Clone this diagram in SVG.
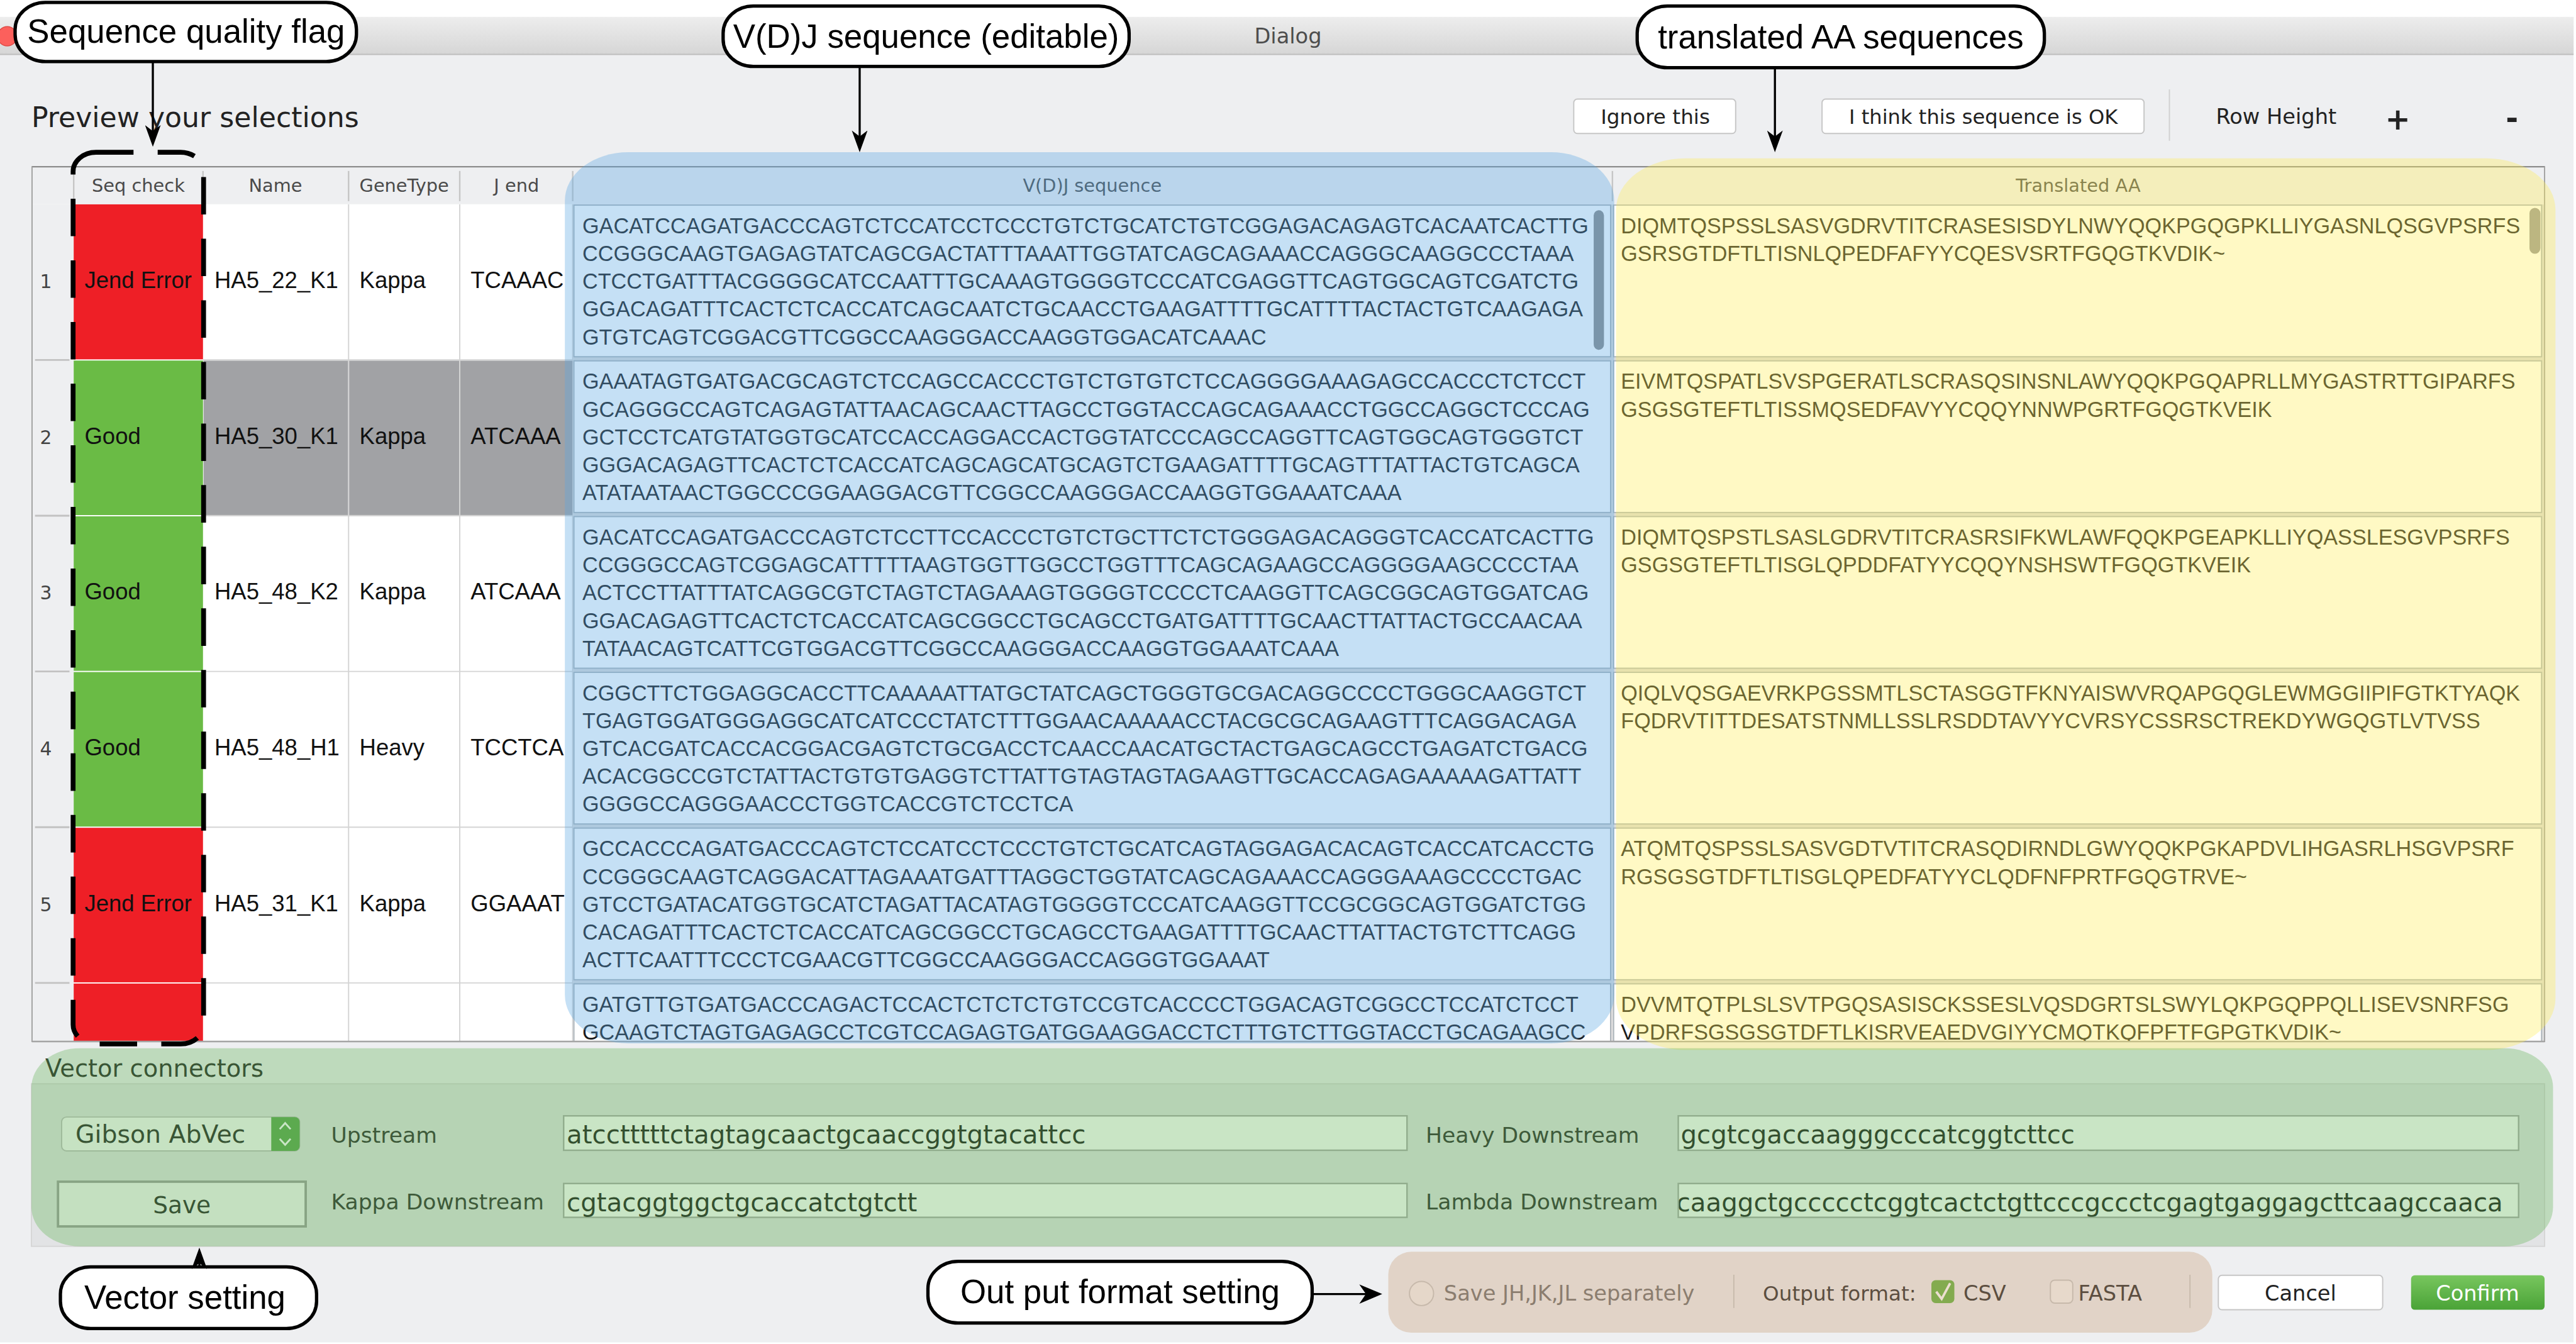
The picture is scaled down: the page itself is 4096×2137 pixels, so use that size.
<svg xmlns="http://www.w3.org/2000/svg" width="4096" height="2137" viewBox="0 0 4096 2137">
<style>
.ui{font-family:"DejaVu Sans",sans-serif;fill:#222}
.hv{font-family:"Liberation Sans",Arial,sans-serif;fill:#111}
.seq{font-family:"Liberation Sans",Arial,sans-serif;font-size:35.6px;fill:#1c1c1c}
.hdr{font-family:"DejaVu Sans",sans-serif;font-size:30px;fill:#4a4a4a;text-anchor:middle}
.cell{font-family:"Liberation Sans",Arial,sans-serif;font-size:38px;fill:#111}
.num{font-family:"DejaVu Sans",sans-serif;font-size:31px;fill:#444;text-anchor:middle}
.lbl{font-family:"DejaVu Sans",sans-serif;font-size:36px;fill:#2a2a2a}
.fld{font-family:"DejaVu Sans",sans-serif;font-size:42px;fill:#1a1a1a}
.field{fill:#ffffff;stroke:#a9a9a9;stroke-width:2.5}
.btn{fill:#ffffff;stroke:#c6c6c6;stroke-width:2}
.vcell{fill:#ffffff;stroke:#adb5bb;stroke-width:2}
.grid{stroke:#d4d4d4;stroke-width:2}
.hsep{stroke:#c6c6c6;stroke-width:2.5}
.ov{fill-opacity:0.35}
.callout{fill:#ffffff;stroke:#000000;stroke-width:5.5}
.ctext{font-family:"Liberation Sans",Arial,sans-serif;font-size:55px;fill:#000;text-anchor:middle}
.conn{stroke:#000;stroke-width:3.5;fill:none}
</style>
<defs>
<linearGradient id="tbar" x1="0" y1="0" x2="0" y2="1"><stop offset="0" stop-color="#ededed"/><stop offset="1" stop-color="#d6d6d6"/></linearGradient>
<linearGradient id="gbtn" x1="0" y1="0" x2="0" y2="1"><stop offset="0" stop-color="#78c65e"/><stop offset="1" stop-color="#4aa337"/></linearGradient>
<marker id="ah" viewBox="0 0 36 26" refX="12" refY="13" markerWidth="36" markerHeight="26" markerUnits="userSpaceOnUse" orient="auto"><path d="M0,0 L36,13 L0,26 L10,13 Z" fill="#000"/></marker>
<marker id="ah2" viewBox="0 0 38 32" refX="13" refY="16" markerWidth="38" markerHeight="32" markerUnits="userSpaceOnUse" orient="auto"><path d="M0,0 L38,16 L0,32 L11,16 Z" fill="#000"/></marker>
<clipPath id="body"><rect x="53" y="338" width="4159" height="1385"/></clipPath>
<clipPath id="lamclip"><rect x="2779" y="1960" width="1389" height="54"/></clipPath>
</defs>
<rect x="0" y="0" width="4096" height="2137" fill="#ffffff"/>
<g transform="scale(0.9606)">
<g id="window">
<rect x="0" y="28" width="4260" height="2194" fill="#eeeff1"/>
<rect x="0" y="28" width="4260" height="62" fill="url(#tbar)"/>
<line x1="0" y1="90" x2="4260" y2="90" stroke="#bdbdbd" stroke-width="2"/>
<circle cx="12" cy="60" r="16" fill="#fc605c" stroke="#de4a45" stroke-width="1.5"/>
<text class="ui" x="2132" y="72" font-size="35" text-anchor="middle" style="fill:#4d4d4d">Dialog</text>
<text class="ui" x="52" y="210" font-size="46">Preview your selections</text>
</g>
<g id="toolbar">
<rect class="btn" x="2605" y="164" width="268" height="57" rx="6"/>
<text class="ui" x="2740" y="205" font-size="34" text-anchor="middle">Ignore this</text>
<rect class="btn" x="3016" y="164" width="533" height="57" rx="6"/>
<text class="ui" x="3283" y="205" font-size="33.5" text-anchor="middle">I think this sequence is OK</text>
<line x1="3591" y1="148" x2="3591" y2="233" stroke="#d0d0d0" stroke-width="2"/>
<text class="ui" x="3668" y="205" font-size="35">Row Height</text>
<text class="ui" x="3969" y="214" font-size="50" font-weight="bold" text-anchor="middle">+</text>
<text class="ui" x="4158" y="212" font-size="50" font-weight="bold" text-anchor="middle">-</text>
</g>
<g id="table">
<rect x="53" y="276" width="4159" height="1448" fill="#ffffff" stroke="#a5a5a5" stroke-width="2"/>
<rect x="54" y="277" width="4157" height="61" fill="#eeeff1"/>
<line x1="53" y1="276" x2="4212" y2="276" stroke="#8c8c8c" stroke-width="2.5"/>
<line class="hsep" x1="122" y1="283" x2="122" y2="333"/>
<line class="hsep" x1="336" y1="283" x2="336" y2="333"/>
<line class="hsep" x1="577" y1="283" x2="577" y2="333"/>
<line class="hsep" x1="761" y1="283" x2="761" y2="333"/>
<line class="hsep" x1="948" y1="283" x2="948" y2="333"/>
<line class="hsep" x1="2669" y1="283" x2="2669" y2="333"/>
<text class="hdr" x="229" y="318">Seq check</text>
<text class="hdr" x="456" y="318">Name</text>
<text class="hdr" x="669" y="318">GeneType</text>
<text class="hdr" x="855" y="318">J end</text>
<text class="hdr" x="1808" y="318">V(D)J sequence</text>
<text class="hdr" x="3440" y="318">Translated AA</text>
<g clip-path="url(#body)">
<rect x="54" y="338" width="68" height="1386" fill="#eeeff1"/>
<g stroke="#c2c2c2" stroke-width="3">
<line x1="58" y1="595.8" x2="115" y2="595.8"/><line x1="58" y1="853.6" x2="115" y2="853.6"/><line x1="58" y1="1111.4" x2="115" y2="1111.4"/><line x1="58" y1="1369.2" x2="115" y2="1369.2"/><line x1="58" y1="1627" x2="115" y2="1627"/>
</g>
<g class="grid">
<line x1="577" y1="338" x2="577" y2="1724"/><line x1="761" y1="338" x2="761" y2="1724"/><line x1="948" y1="338" x2="948" y2="1724"/>
<line x1="336" y1="595.8" x2="948" y2="595.8"/><line x1="336" y1="853.6" x2="948" y2="853.6"/><line x1="336" y1="1111.4" x2="948" y2="1111.4"/><line x1="336" y1="1369.2" x2="948" y2="1369.2"/><line x1="336" y1="1627" x2="948" y2="1627"/>
</g>
<g id="selected-row" fill="#a1a2a5">
<rect x="337" y="597" width="239" height="255.5"/><rect x="578" y="597" width="182" height="255.5"/><rect x="762" y="597" width="185.5" height="255.5"/>
</g>
<g id="seq-check-col">
<rect x="122" y="338" width="214" height="256.8" fill="#ee1f26"/>
<rect x="122" y="596.8" width="214" height="255.8" fill="#6abb45"/>
<rect x="122" y="854.6" width="214" height="255.8" fill="#6abb45"/>
<rect x="122" y="1112.4" width="214" height="255.8" fill="#6abb45"/>
<rect x="122" y="1370.2" width="214" height="255.8" fill="#ee1f26"/>
<rect x="122" y="1628" width="214" height="100" fill="#ee1f26"/>
</g>
<g id="row-labels">
<text class="num" x="76" y="477">1</text><text class="num" x="76" y="734.8">2</text><text class="num" x="76" y="992.6">3</text><text class="num" x="76" y="1250.4">4</text><text class="num" x="76" y="1508.2">5</text>
<text class="cell" x="140" y="477">Jend Error</text><text class="cell" x="355" y="477">HA5_22_K1</text><text class="cell" x="595" y="477">Kappa</text><text class="cell" x="779" y="477">TCAAAC</text>
<text class="cell" x="140" y="734.8">Good</text><text class="cell" x="355" y="734.8">HA5_30_K1</text><text class="cell" x="595" y="734.8">Kappa</text><text class="cell" x="779" y="734.8">ATCAAA</text>
<text class="cell" x="140" y="992.6">Good</text><text class="cell" x="355" y="992.6">HA5_48_K2</text><text class="cell" x="595" y="992.6">Kappa</text><text class="cell" x="779" y="992.6">ATCAAA</text>
<text class="cell" x="140" y="1250.4">Good</text><text class="cell" x="355" y="1250.4">HA5_48_H1</text><text class="cell" x="595" y="1250.4">Heavy</text><text class="cell" x="779" y="1250.4">TCCTCA</text>
<text class="cell" x="140" y="1508.2">Jend Error</text><text class="cell" x="355" y="1508.2">HA5_31_K1</text><text class="cell" x="595" y="1508.2">Kappa</text><text class="cell" x="779" y="1508.2">GGAAAT</text>
</g>
<g id="vdj-col">
<rect x="949" y="338" width="1720" height="1386" fill="#dcdcdc"/>
<rect class="vcell" x="950" y="339.5" width="1716" height="251"/>
<rect class="vcell" x="950" y="597.3" width="1716" height="251"/>
<rect class="vcell" x="950" y="855.1" width="1716" height="251"/>
<rect class="vcell" x="950" y="1112.9" width="1716" height="251"/>
<rect class="vcell" x="950" y="1370.7" width="1716" height="251"/>
<rect class="vcell" x="950" y="1628.5" width="1716" height="150"/>
<rect x="2638" y="348" width="17" height="231" rx="8.5" fill="#8d8d8d"/>
<text class="seq"><tspan x="964" y="386">GACATCCAGATGACCCAGTCTCCATCCTCCCTGTCTGCATCTGTCGGAGACAGAGTCACAATCACTTG</tspan><tspan x="964" y="432">CCGGGCAAGTGAGAGTATCAGCGACTATTTAAATTGGTATCAGCAGAAACCAGGGCAAGGCCCTAAA</tspan><tspan x="964" y="478">CTCCTGATTTACGGGGCATCCAATTTGCAAAGTGGGGTCCCATCGAGGTTCAGTGGCAGTCGATCTG</tspan><tspan x="964" y="524">GGACAGATTTCACTCTCACCATCAGCAATCTGCAACCTGAAGATTTTGCATTTTACTACTGTCAAGAGA</tspan><tspan x="964" y="570">GTGTCAGTCGGACGTTCGGCCAAGGGACCAAGGTGGACATCAAAC</tspan></text>
<text class="seq"><tspan x="964" y="643.8">GAAATAGTGATGACGCAGTCTCCAGCCACCCTGTCTGTGTCTCCAGGGGAAAGAGCCACCCTCTCCT</tspan><tspan x="964" y="689.8">GCAGGGCCAGTCAGAGTATTAACAGCAACTTAGCCTGGTACCAGCAGAAACCTGGCCAGGCTCCCAG</tspan><tspan x="964" y="735.8">GCTCCTCATGTATGGTGCATCCACCAGGACCACTGGTATCCCAGCCAGGTTCAGTGGCAGTGGGTCT</tspan><tspan x="964" y="781.8">GGGACAGAGTTCACTCTCACCATCAGCAGCATGCAGTCTGAAGATTTTGCAGTTTATTACTGTCAGCA</tspan><tspan x="964" y="827.8">ATATAATAACTGGCCCGGAAGGACGTTCGGCCAAGGGACCAAGGTGGAAATCAAA</tspan></text>
<text class="seq"><tspan x="964" y="901.6">GACATCCAGATGACCCAGTCTCCTTCCACCCTGTCTGCTTCTCTGGGAGACAGGGTCACCATCACTTG</tspan><tspan x="964" y="947.6">CCGGGCCAGTCGGAGCATTTTTAAGTGGTTGGCCTGGTTTCAGCAGAAGCCAGGGGAAGCCCCTAA</tspan><tspan x="964" y="993.6">ACTCCTTATTTATCAGGCGTCTAGTCTAGAAAGTGGGGTCCCCTCAAGGTTCAGCGGCAGTGGATCAG</tspan><tspan x="964" y="1039.6">GGACAGAGTTCACTCTCACCATCAGCGGCCTGCAGCCTGATGATTTTGCAACTTATTACTGCCAACAA</tspan><tspan x="964" y="1085.6">TATAACAGTCATTCGTGGACGTTCGGCCAAGGGACCAAGGTGGAAATCAAA</tspan></text>
<text class="seq"><tspan x="964" y="1159.4">CGGCTTCTGGAGGCACCTTCAAAAATTATGCTATCAGCTGGGTGCGACAGGCCCCTGGGCAAGGTCT</tspan><tspan x="964" y="1205.4">TGAGTGGATGGGAGGCATCATCCCTATCTTTGGAACAAAAACCTACGCGCAGAAGTTTCAGGACAGA</tspan><tspan x="964" y="1251.4">GTCACGATCACCACGGACGAGTCTGCGACCTCAACCAACATGCTACTGAGCAGCCTGAGATCTGACG</tspan><tspan x="964" y="1297.4">ACACGGCCGTCTATTACTGTGTGAGGTCTTATTGTAGTAGTAGAAGTTGCACCAGAGAAAAAGATTATT</tspan><tspan x="964" y="1343.4">GGGGCCAGGGAACCCTGGTCACCGTCTCCTCA</tspan></text>
<text class="seq"><tspan x="964" y="1417.2">GCCACCCAGATGACCCAGTCTCCATCCTCCCTGTCTGCATCAGTAGGAGACACAGTCACCATCACCTG</tspan><tspan x="964" y="1463.2">CCGGGCAAGTCAGGACATTAGAAATGATTTAGGCTGGTATCAGCAGAAACCAGGGAAAGCCCCTGAC</tspan><tspan x="964" y="1509.2">GTCCTGATACATGGTGCATCTAGATTACATAGTGGGGTCCCATCAAGGTTCCGCGGCAGTGGATCTGG</tspan><tspan x="964" y="1555.2">CACAGATTTCACTCTCACCATCAGCGGCCTGCAGCCTGAAGATTTTGCAACTTATTACTGTCTTCAGG</tspan><tspan x="964" y="1601.2">ACTTCAATTTCCCTCGAACGTTCGGCCAAGGGACCAGGGTGGAAAT</tspan></text>
<text class="seq"><tspan x="964" y="1675">GATGTTGTGATGACCCAGACTCCACTCTCTCTGTCCGTCACCCCTGGACAGTCGGCCTCCATCTCCT</tspan><tspan x="964" y="1721">GCAAGTCTAGTGAGAGCCTCGTCCAGAGTGATGGAAGGACCTCTTTGTCTTGGTACCTGCAGAAGCC</tspan></text>
</g>
<g id="aa-col">
<rect x="2669" y="338" width="1543" height="1386" fill="#dcdcdc"/>
<rect class="vcell" x="2671" y="339.5" width="1536" height="251"/>
<rect class="vcell" x="2671" y="597.3" width="1536" height="251"/>
<rect class="vcell" x="2671" y="855.1" width="1536" height="251"/>
<rect class="vcell" x="2671" y="1112.9" width="1536" height="251"/>
<rect class="vcell" x="2671" y="1370.7" width="1536" height="251"/>
<rect class="vcell" x="2671" y="1628.5" width="1536" height="150"/>
<rect x="4187" y="344" width="18" height="76" rx="9" fill="#999999"/>
<text class="seq"><tspan x="2683" y="386">DIQMTQSPSSLSASVGDRVTITCRASESISDYLNWYQQKPGQGPKLLIYGASNLQSGVPSRFS</tspan><tspan x="2683" y="432">GSRSGTDFTLTISNLQPEDFAFYYCQESVSRTFGQGTKVDIK~</tspan></text>
<text class="seq"><tspan x="2683" y="643.8">EIVMTQSPATLSVSPGERATLSCRASQSINSNLAWYQQKPGQAPRLLMYGASTRTTGIPARFS</tspan><tspan x="2683" y="689.8">GSGSGTEFTLTISSMQSEDFAVYYCQQYNNWPGRTFGQGTKVEIK</tspan></text>
<text class="seq"><tspan x="2683" y="901.6">DIQMTQSPSTLSASLGDRVTITCRASRSIFKWLAWFQQKPGEAPKLLIYQASSLESGVPSRFS</tspan><tspan x="2683" y="947.6">GSGSGTEFTLTISGLQPDDFATYYCQQYNSHSWTFGQGTKVEIK</tspan></text>
<text class="seq"><tspan x="2683" y="1159.4">QIQLVQSGAEVRKPGSSMTLSCTASGGTFKNYAISWVRQAPGQGLEWMGGIIPIFGTKTYAQK</tspan><tspan x="2683" y="1205.4">FQDRVTITTDESATSTNMLLSSLRSDDTAVYYCVRSYCSSRSCTREKDYWGQGTLVTVSS</tspan></text>
<text class="seq"><tspan x="2683" y="1417.2">ATQMTQSPSSLSASVGDTVTITCRASQDIRNDLGWYQQKPGKAPDVLIHGASRLHSGVPSRF</tspan><tspan x="2683" y="1463.2">RGSGSGTDFTLTISGLQPEDFATYYCLQDFNFPRTFGQGTRVE~</tspan></text>
<text class="seq"><tspan x="2683" y="1675">DVVMTQTPLSLSVTPGQSASISCKSSESLVQSDGRTSLSWYLQKPGQPPQLLISEVSNRFSG</tspan><tspan x="2683" y="1721">VPDRFSGSGSGTDFTLKISRVEAEDVGIYYCMQTKQFPFTFGPGTKVDIK~</tspan></text>
</g>
</g>
<line x1="53" y1="1724" x2="4212" y2="1724" stroke="#a5a5a5" stroke-width="2.5"/>
<line x1="53" y1="276" x2="53" y2="1724" stroke="#a5a5a5" stroke-width="2"/>
<line x1="4212" y1="276" x2="4212" y2="1724" stroke="#a5a5a5" stroke-width="2"/>
</g>
<g id="vector-panel">
<rect x="52" y="1794" width="4160" height="269" fill="#e2e3e5" stroke="#d6d6d6" stroke-width="2"/>
<text class="ui" x="75" y="1782" font-size="40">Vector connectors</text>
<rect x="102" y="1849" width="394" height="56" rx="8" fill="#fafafa" stroke="#bdbdbd" stroke-width="2"/>
<path d="M449,1849 H488 A8,8 0 0 1 496,1857 V1897 A8,8 0 0 1 488,1905 H449 Z" fill="#58a54b"/>
<path d="M463,1869 L472,1859 L481,1869 M463,1885 L472,1895 L481,1885" stroke="#ffffff" stroke-width="3" fill="none"/>
<text class="ui" x="125" y="1892" font-size="41">Gibson AbVec</text>
<rect x="96" y="1956" width="410" height="74" fill="#f7f7f7" stroke="#9c9c9c" stroke-width="4"/>
<text class="ui" x="301" y="2008" font-size="39" text-anchor="middle">Save</text>
<text class="lbl" x="548" y="1892">Upstream</text>
<text class="lbl" x="548" y="2002">Kappa Downstream</text>
<text class="lbl" x="2360" y="1892">Heavy Downstream</text>
<text class="lbl" x="2360" y="2002">Lambda Downstream</text>
<rect class="field" x="933" y="1847" width="1396" height="57"/>
<rect class="field" x="933" y="1959" width="1396" height="56"/>
<rect class="field" x="2778" y="1847" width="1391" height="57"/>
<rect class="field" x="2778" y="1959" width="1391" height="56"/>
<text class="fld" x="938" y="1893">atcctttttctagtagcaactgcaaccggtgtacattcc</text>
<text class="fld" x="938" y="2005">cgtacggtggctgcaccatctgtctt</text>
<text class="fld" x="2782" y="1893">gcgtcgaccaagggcccatcggtcttcc</text>
<text class="fld" x="2775" y="2005" clip-path="url(#lamclip)">caaggctgccccctcggtcactctgttcccgccctcgagtgaggagcttcaagccaaca</text>
</g>
<g id="output-panel">
<circle cx="2353" cy="2141" r="20" fill="#f4f4f4" stroke="#c6c6c6" stroke-width="2"/>
<text class="ui" x="2390" y="2153" font-size="35" style="fill:#6a6a6a">Save JH,JK,JL separately</text>
<line x1="2870" y1="2110" x2="2870" y2="2165" stroke="#c8c8c8" stroke-width="2"/>
<text class="ui" x="2918" y="2153" font-size="34">Output format:</text>
<rect x="3197" y="2119" width="38" height="38" rx="7" fill="#5fb13a"/>
<path d="M3205,2138 L3214,2150 L3228,2124" stroke="#ffffff" stroke-width="4" fill="none"/>
<text class="ui" x="3250" y="2153" font-size="35">CSV</text>
<rect x="3394" y="2119" width="37" height="38" rx="7" fill="#f7f7f7" stroke="#c6c6c6" stroke-width="2"/>
<text class="ui" x="3440" y="2153" font-size="35">FASTA</text>
<line x1="3625" y1="2110" x2="3625" y2="2165" stroke="#c8c8c8" stroke-width="2"/>
<rect class="btn" x="3672" y="2111" width="272" height="57" rx="6"/>
<text class="ui" x="3808" y="2153" font-size="35" text-anchor="middle">Cancel</text>
<rect x="3991" y="2111" width="221" height="57" rx="6" fill="url(#gbtn)"/>
<text class="ui" x="4101" y="2153" font-size="35" text-anchor="middle" style="fill:#ffffff">Confirm</text>
</g>
<g id="overlays">
<rect class="ov" x="935" y="252" width="1737" height="1475" rx="105" ry="80" fill="#58a7e3"/>
<rect class="ov" x="2675" y="262" width="1555" height="1476" rx="115" ry="85" fill="#ffee56"/>
<rect class="ov" x="52" y="1735" width="4174" height="328" rx="80" ry="65" fill="#64b45a"/>
<rect class="ov" x="2298" y="2072" width="1364" height="134" rx="38" ry="38" fill="#c8a078"/>
</g>
<rect id="seq-flag-outline" x="121" y="252" width="216" height="1476" rx="38" ry="32" fill="none" stroke="#000" stroke-width="8" stroke-dasharray="62 40"/>
<g id="callout-quality"><rect class="callout" x="25" y="4" width="565" height="98" rx="50" ry="45"/><text class="ctext" x="308" y="71">Sequence quality flag</text></g>
<g id="callout-vdj"><rect class="callout" x="1197" y="10" width="672" height="100" rx="50" ry="45"/><text class="ctext" x="1533" y="79">V(D)J sequence (editable)</text></g>
<g id="callout-aa"><rect class="callout" x="2710" y="10" width="674" height="102" rx="50" ry="45"/><text class="ctext" x="3047" y="80">translated AA sequences</text></g>
<g id="callout-vector"><rect class="callout" x="100" y="2097" width="424" height="102" rx="50" ry="45"/><text class="ctext" x="306" y="2166">Vector setting</text></g>
<g id="callout-output"><rect class="callout" x="1536" y="2088" width="636" height="102" rx="50" ry="45"/><text class="ctext" x="1854" y="2157">Out put format setting</text></g>
<g id="connectors">
<line class="conn" x1="253" y1="104" x2="253" y2="219" marker-end="url(#ah)"/>
<line class="conn" x1="1423" y1="112" x2="1423" y2="228" marker-end="url(#ah)"/>
<line class="conn" x1="2938" y1="114" x2="2938" y2="228" marker-end="url(#ah)"/>
<line class="conn" x1="330" y1="2099" x2="330" y2="2089" marker-end="url(#ah)"/>
<line class="conn" x1="2173" y1="2142" x2="2263" y2="2142" stroke-width="4.5" marker-end="url(#ah2)"/>
</g>
</g>
</svg>
